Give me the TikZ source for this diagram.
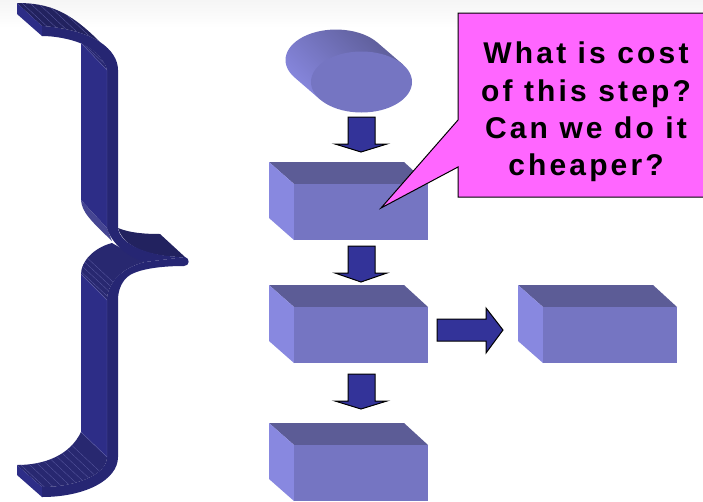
\documentclass[tikz,border=0pt]{standalone}
\usepackage{fontspec}
\newfontfamily\calloutfont[LetterSpace=10.5]{Liberation Sans}
\definecolor{boxFront}{RGB}{117,117,194}
\definecolor{boxTop}{RGB}{92,92,150}
\definecolor{boxSide}{RGB}{136,136,224}
\definecolor{arrowBlue}{RGB}{51,51,153}
\definecolor{braceFace}{RGB}{45,45,135}
\definecolor{braceStrip}{RGB}{38,38,115}
\definecolor{braceBend}{RGB}{40,40,112}
\definecolor{braceLine}{RGB}{92,92,164}
\definecolor{calloutPink}{RGB}{255,102,255}
\tikzset{
  blockarrow/.style={draw=black, line width=1pt, line join=miter, fill=arrowBlue},
  hatchline/.style={braceLine, line width=0.3pt},
}
% front, top and left faces of one process box
\newcommand{\processbox}[3]{
  \fill[boxTop] (#1,#2) -- (#1+135,#2) -- (#1+159,#2+22) -- (#1+25,#2+22) -- cycle;
  \fill[boxSide] (#1,#2) -- (#1+25,#2+22) -- (#1+25,#2+#3) -- (#1,#2+#3-22) -- cycle;
  \fill[boxFront] (#1+25,#2+22) rectangle (#1+159,#2+#3);
}
% extrusion lines inside the current clip
\newcommand{\bendhatch}[2]{
  \foreach \h in {#1} {
    \draw[hatchline] (\h,#2) -- ++(75,70);
  }
}
\begin{document}
\begin{tikzpicture}[x=1pt,y=-1pt]
    \useasboundingbox (0,0) rectangle (703,501);
    \clip (0,0) rectangle (703,501);
    \fill[white] (0,0) rectangle (703,501);
    \shade[top color=black!4, bottom color=white] (0,0) rectangle (703,28);

    % lower half of the brace
    \begin{scope}
      \clip (112,243) .. controls (93,248) and (81,262) .. (81,274) -- (107,300) .. controls (107,285) and (120,268) .. (145,262) -- cycle;
      \fill[braceBend] (70,235) rectangle (150,305);
      \bendhatch{20,26,33,40,47,54,61,68}{240}
    \end{scope}
    \begin{scope}
      \clip (81,432) .. controls (70,455) and (45,465) .. (17,465) -- (42,487) .. controls (75,487) and (107,475) .. (107,457) -- cycle;
      \fill[braceBend] (10,425) rectangle (110,490);
      \bendhatch{-40,-31,-22,-13,-4,5,14,23,32,41,50}{425}
    \end{scope}
    \fill[braceFace] (81,274) -- (107,300) -- (107,457) -- (81,432) -- cycle;
    \fill[braceFace] (17,465) -- (42,487) -- (42,497) -- (17,475) -- cycle;
    \fill[braceStrip] (145,262) .. controls (120,268) and (107,285) .. (107,300) -- (107,457)
      .. controls (107,475) and (75,487) .. (42,487) -- (42,497)
      .. controls (85,497) and (118,480) .. (118,457) -- (118,300)
      .. controls (118,290) and (122,280) .. (130,275) .. controls (142,268) and (165,266) .. (184,266)
      .. controls (190,266) and (190,258) .. (185,257) -- cycle;
    \draw[braceLine, line width=0.4pt] (81,274) -- (107,300) -- (107,457) -- (81,432);

    % upper half of the brace
    \begin{scope}
      \clip (17,3) .. controls (50,3) and (70,12) .. (100,42) .. controls (85,32) and (60,27) .. (42,26) -- cycle;
      \fill[braceBend!85!black] (10,0) rectangle (105,45);
      \bendhatch{-25,-16,-8,0,8,16,24,32,40,48,56}{-10}
    \end{scope}
    \begin{scope}
      \clip (81,43) .. controls (92,47) and (105,60) .. (107,70) -- cycle;
      \fill[braceBend] (80,40) rectangle (110,72);
      \bendhatch{47,53,59}{10}
    \end{scope}
    \fill[braceFace] (81,43) -- (107,70) -- (107,228) -- (81,200) -- cycle;
    \begin{scope}
      \clip (81,200) .. controls (82,212) and (90,220) .. (112,241) -- (107,228) -- cycle;
      \fill[braceBend!70!boxSide] (78,198) rectangle (115,245);
      \bendhatch{-115,-110,-105,-100}{0}
    \end{scope}
    \begin{scope}
      \clip (118,228) .. controls (130,233) and (145,234) .. (160,234) -- (185,257) .. controls (150,257) and (124,248) .. (118,228) -- cycle;
      \fill[braceBend!85!black] (115,225) rectangle (190,260);
      \bendhatch{-60,-54,-48,-42,-36,-30,-24,-18,-12}{160}
    \end{scope}
    \fill[braceFace] (17,3) -- (42,26) -- (42,36) -- (17,14) -- cycle;
    \fill[braceStrip] (42,26) .. controls (60,27) and (85,32) .. (100,42) .. controls (112,50) and (118,60) .. (118,70) -- (118,228)
      .. controls (120,245) and (150,257) .. (185,257) -- (145,262)
      .. controls (130,258) and (112,245) .. (107,228) -- (107,70)
      .. controls (105,60) and (92,47) .. (80,43) .. controls (70,39) and (55,36) .. (42,36) -- cycle;
    \draw[braceLine, line width=0.4pt] (81,43) -- (107,70) -- (107,228);

    % disc on top of the flow
    \shade[left color=boxSide, right color=boxTop, shading angle=135]
      (294.4,77.3) arc[start angle=145.5, end angle=325.5, x radius=50.5, y radius=30.5]
      -- (403.1,64.7) -- (319.9,99.3) -- cycle;
    \fill[boxFront] (361.5,82) ellipse[x radius=50.5, y radius=30.5];

    % process boxes
    \processbox{269}{162}{78}
    \processbox{269}{285}{78}
    \processbox{518}{285}{78}
    \processbox{269}{423}{78}

    % block arrows
    \foreach \ay/\tipy in {117/35, 246/36, 374/35} {
      \draw[blockarrow] (348,\ay) -- (375,\ay) -- (375,\ay+27) -- (387,\ay+27) -- (361,\ay+\tipy)
        -- (335,\ay+27) -- (348,\ay+27) -- cycle;
    }
    \draw[blockarrow] (437,319) -- (486,319) -- (486,308) -- (503,330) -- (486,353) -- (486,341) -- (437,341) -- cycle;

    % callout
    \draw[line width=1pt, fill=calloutPink] (458,13) -- (710,13) -- (710,197) -- (458,197) -- (458,167)
      -- (381,208) -- (458,120) -- cycle;
    \node[align=center, inner sep=0pt, text=black, font=\calloutfont\bfseries\fontsize{30}{37.3}\selectfont] (costtext) at (586,112)
      {What is cost\\of this step?\\Can we do it\\cheaper?};
  \end{tikzpicture}
\end{document}
